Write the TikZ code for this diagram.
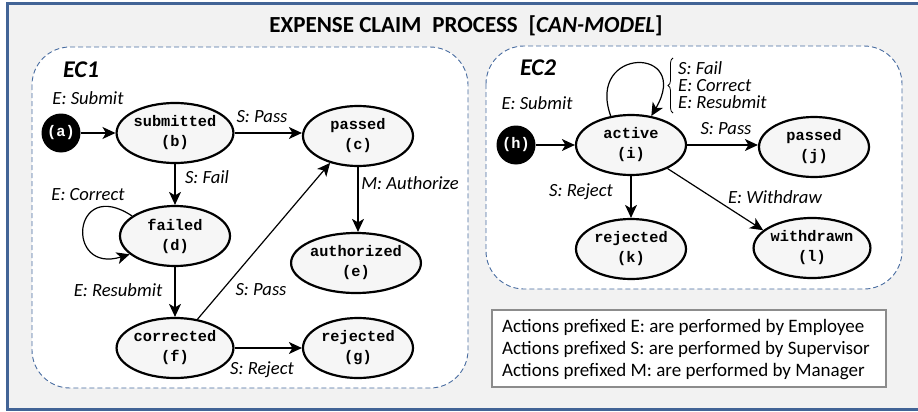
\documentclass[tikz,border=0pt]{standalone}
\usepackage{fontspec}
\setmainfont{Carlito}
\newfontfamily\codefont{Liberation Mono}
\usetikzlibrary{arrows.meta,shapes.geometric,decorations.pathreplacing}

\definecolor{frameblue}{RGB}{66,100,150}
\definecolor{dashblue}{RGB}{72,108,160}
\definecolor{panelgray}{RGB}{242,242,242}
\definecolor{statefill}{RGB}{246,246,246}
\definecolor{legendgray}{RGB}{140,140,140}

\begin{document}
\begin{tikzpicture}[x=1pt,y=-1pt,
  stnode/.style={ellipse, draw=black, line width=2.2pt, fill=statefill,
    minimum width=110pt, minimum height=60pt, inner sep=0pt, align=center,
    font=\codefont\bfseries\fontsize{15.3}{20}\selectfont},
  startnode/.style={circle, fill=black, text=white, minimum size=39pt, inner sep=0pt,
    font=\codefont\bfseries\fontsize{15.3}{20}\selectfont},
  edge/.style={line width=1.2pt, -{Stealth[length=13pt,width=12pt,inset=3.5pt]}},
  lbl/.style={font=\itshape\fontsize{18.6}{20}\selectfont, inner sep=0pt},
  groupbox/.style={draw=dashblue, line width=0.9pt, dash pattern=on 5pt off 3pt,
    rounded corners=38pt, fill=white},
  grouptitle/.style={font=\bfseries\itshape\fontsize{24}{26}\selectfont, inner sep=0pt}
]
\useasboundingbox (0,0) rectangle (918,412);
\clip (0,0) rectangle (918,412);

% outer frame
\fill[white] (0,0) rectangle (918,412);
\draw[frameblue, line width=3pt, fill=panelgray] (7,4) rectangle (940,409);

% title
\node[font=\bfseries\fontsize{23}{26}\selectfont, inner sep=0pt] (title) at (466,26)
  {EXPENSE CLAIM\hspace{0.25em} PROCESS\hspace{0.25em} [\textit{CAN-MODEL}]};

% group panels
\draw[groupbox] (32,47) rectangle (468,388);
\draw[groupbox] (486,46) rectangle (902,289);
\node[grouptitle] (ec1) at (81,70) {EC1};
\node[grouptitle] (ec2) at (538,68) {EC2};

% ---- EC1 ----
\node[startnode] (a) at (61,133) {(a)};
\node[stnode] (b) at (175,133) {submitted\\(b)};
\node[stnode] (c) at (358,136) {passed\\(c)};
\node[stnode] (d) at (175,236) {failed\\(d)};
\node[stnode] (e) at (356,263) {authorized\\(e)};
\node[stnode] (f) at (175,348) {corrected\\(f)};
\node[stnode] (g) at (358,348) {rejected\\(g)};

\draw[edge] (a) -- (b);
\draw[edge] (b) -- (b -| c.west);
\draw[edge] (b) -- (d);
\draw[edge] (d) -- (f);
\draw[edge] (f.52) -- (c.224);
\draw[edge] (f) -- (g);
\draw[edge] (c) -- (c |- e.north);
\draw[edge] (d.155) .. controls +(-60,-40) and +(-65,20) .. (d.202);

\node[lbl] (la) at (88,98) {E: Submit};
\node[lbl] (lb) at (262,117) {S: Pass};
\node[lbl] (lc) at (207,177) {S: Fail};
\node[lbl] (ld) at (88,195) {E: Correct};
\node[lbl] (le) at (118,290) {E: Resubmit};
\node[lbl] (lf) at (261,290) {S: Pass};
\node[lbl] (lg) at (262,370) {S: Reject};
\node[lbl] (lh) at (410,183) {M: Authorize};

% ---- EC2 ----
\node[startnode] (h) at (516,145) {(h)};
\node[stnode] (i) at (631,145) {active\\(i)};
\node[stnode] (j) at (814,147) {passed\\(j)};
\node[stnode] (k) at (631,249) {rejected\\(k)};
\node[stnode] (l) at (812,248) {withdrawn\\(l)};

\draw[edge] (h) -- (i);
\draw[edge] (i) -- (i -| j.west);
\draw[edge] (i) -- (k);
\draw[edge] (i) -- (l.160);
\draw[edge] (i.125) .. controls +(-25,-70) and +(41,-70) .. (i.55);

\node[lbl] (li) at (537,103) {E: Submit};
\node[lbl] (lj) at (726,129) {S: Pass};
\node[lbl] (lk) at (581,192) {S: Reject};
\node[lbl] (ll) at (775,197) {E: Withdraw};

\coordinate (brtop) at (673,58);
\coordinate (brbot) at (673,113);
\draw[line width=0.8pt, decorate, decoration={brace, amplitude=5pt}] (brbot) -- (brtop);
\node[lbl, anchor=west, align=left, font=\itshape\fontsize{18.6}{17}\selectfont] (lloop) at (678,85)
  {S: Fail\\E: Correct\\E: Resubmit};

% legend
\node[draw=legendgray, line width=1.2pt, fill=white, minimum width=394pt, minimum height=77pt,
  inner sep=0pt] (legendbox) at (689,348.5) {};
\node[anchor=west, align=left, font=\fontsize{19}{22}\selectfont, inner sep=0pt] (legendtext) at (502,350)
  {Actions prefixed E: are performed by Employee\\
   Actions prefixed S: are performed by Supervisor\\
   Actions prefixed M: are performed by Manager};
\end{tikzpicture}
\end{document}
